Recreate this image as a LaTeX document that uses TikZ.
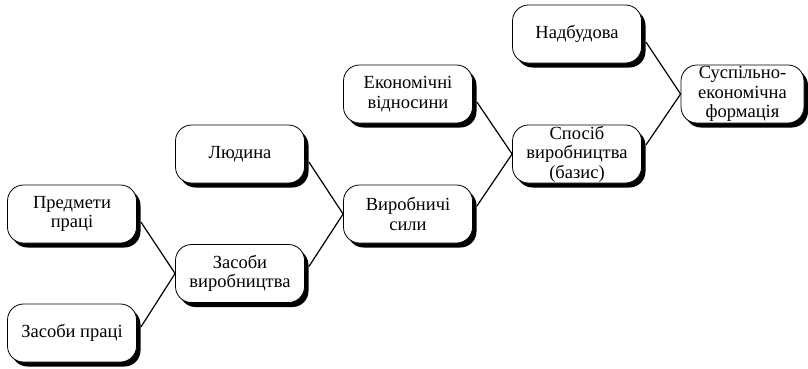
\documentclass[tikz,border=0pt]{standalone}
\usepackage{fontspec}
\setmainfont{Liberation Serif}
\usetikzlibrary{shadows,calc}
\begin{document}
\begin{tikzpicture}[x=1pt,y=-1pt,
  box/.style={draw=black, line width=0.8pt, fill=white, rounded corners=16pt,
    minimum width=129pt, minimum height=58pt, inner sep=0pt, align=center,
    font=\fontsize{18.5}{19.5}\selectfont,
    drop shadow={shadow xshift=4pt, shadow yshift=-4.5pt, fill=black, opacity=1}},
  link/.style={line width=1.2pt}]
\useasboundingbox (0,0) rectangle (808,368);
\node[box] (pp)  at (72,214)   {Предмети\\праці};
\node[box] (zp)  at (72,333)   {Засоби праці};
\node[box] (zv)  at (240,273.5) {Засоби\\виробництва};
\node[box] (lyu) at (240,154)  {Людина};
\node[box] (vs)  at (408,214)  {Виробничі\\сили};
\node[box] (ev)  at (408,94)   {Економічні\\відносини};
\node[box] (sv)  at (577,154)  {Спосіб\\виробництва\\(базис)};
\node[box] (nad) at (577,34)   {Надбудова};
\node[box, minimum width=123pt] (sef) at (742.5,94) {Суспільно-\\економічна\\формація};
\draw[link] ($(pp.east)+(4,8)$) -- (zv.west);
\draw[link] ($(zp.east)+(4,-6)$) -- (zv.west);
\draw[link] ($(lyu.east)+(4,8)$) -- (vs.west);
\draw[link] ($(zv.east)+(4,-7)$) -- (vs.west);
\draw[link] ($(ev.east)+(4,8)$) -- (sv.west);
\draw[link] ($(vs.east)+(4,-8)$) -- (sv.west);
\draw[link] ($(nad.east)+(4,8)$) -- (sef.west);
\draw[link] ($(sv.east)+(4,-9)$) -- (sef.west);
\end{tikzpicture}
\end{document}
